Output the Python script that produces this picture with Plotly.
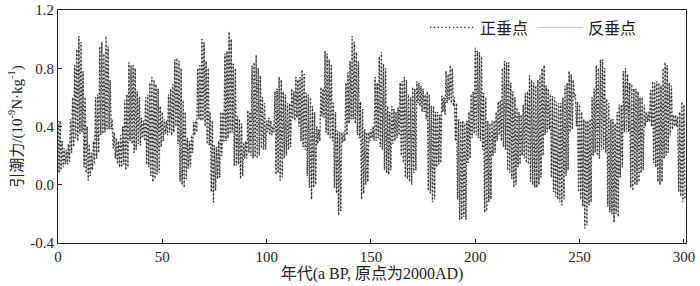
import plotly.graph_objects as go

years = list(range(0, 301))

upper = [
    .44, .44, .30, .25, .24, .28, .45, .60, .82, .93,
    1.02, .98, .78, .60, .40, .28, .22, .30, .60, .62,
    .95, .98, .90, 1.02, .95, .72, .45, .36, .32, .30,
    .34, .40, .58, .62, .84, .82, .82, .80, .64, .60,
    .46, .44, .60, .62, .70, .74, .72, .69, .66, .54,
    .50, .45, .44, .62, .66, .69, .86, .87, .85, .80,
    .58, .50, .32, .30, .34, .43, .44, .80, .82, 1.00,
    .98, .85, .80, .50, .44, .27, .26, .30, .50, .50,
    .90, .92, 1.05, 1.00, .83, .80, .47, .45, .42, .29,
    .30, .51, .50, .82, .84, .89, .80, .75, .60, .56,
    .44, .46, .44, .40, .64, .66, .74, .72, .64, .62,
    .56, .56, .66, .64, .74, .72, .74, .79, .76, .63,
    .62, .60, .54, .50, .40, .38, .67, .66, .92, .90,
    .86, .82, .56, .50, .37, .36, .36, .36, .70, .77,
    .85, 1.02, .98, .91, .85, .57, .52, .38, .36, .36,
    .38, .40, .74, .70, .88, .91, .83, .80, .54, .50,
    .54, .52, .50, .53, .70, .71, .74, .72, .62, .60,
    .67, .66, .71, .70, .68, .66, .62, .64, .62, .54,
    .54, .50, .50, .48, .61, .60, .78, .76, .82, .80,
    .60, .56, .45, .43, .44, .42, .44, .50, .62, .64,
    .94, .92, .91, .88, .63, .60, .44, .42, .44, .44,
    .50, .57, .58, .80, .85, .84, .84, .70, .64, .60,
    .53, .50, .48, .55, .63, .64, .75, .72, .70, .68,
    .72, .75, .80, .82, .68, .66, .62, .61, .60, .57,
    .56, .56, .60, .68, .70, .78, .76, .72, .62, .57,
    .55, .50, .45, .44, .44, .45, .60, .66, .82, .80,
    .86, .86, .80, .59, .56, .45, .45, .42, .50, .55,
    .55, .78, .80, .76, .70, .69, .66, .66, .64, .60,
    .60, .55, .50, .50, .65, .71, .70, .71, .70, .68,
    .80, .84, .82, .70, .68, .48, .48, .47, .50, .57,
    .55,
]

lower = [
    .08, .10, .12, .14, .14, .16, .22, .26, .32, .30,
    .35, .36, .12, .08, .03, .06, .10, .14, .18, .22,
    .34, .35, .36, .38, .38, .38, .25, .18, .14, .12,
    .12, .14, .10, .12, .30, .28, .22, .24, .28, .27,
    .32, .30, .14, .12, .06, .02, .04, .07, .08, .26,
    .30, .35, .34, .36, .34, .36, .40, .28, .02, .00,
    -.02, .04, .11, .12, .22, .34, .36, .45, .44, .44,
    .40, .28, .27, -.05, -.12, -.04, .04, .05, .20, .29,
    .30, .32, .35, .36, .13, .13, .14, .04, .06, .18,
    .18, .22, .20, .18, .19, .18, .20, .25, .24, .24,
    .36, .34, .34, .36, .07, .08, .03, .05, .18, .20,
    .24, .26, .45, .44, .46, .40, .30, .26, .24, .06,
    -.02, -.10, -.02, .00, .28, .30, .47, .46, .36, .34,
    .32, .30, -.02, -.06, -.21, -.18, .29, .30, .34, .42,
    .45, .45, .42, .34, .32, -.10, -.06, .00, .02, .30,
    .32, .30, .30, .32, .26, .24, .10, .08, .07, .10,
    .28, .30, .32, .34, .20, .15, .05, .04, .02, .00,
    .08, .10, .56, .54, .50, .50, .45, -.04, -.06, -.12,
    -.10, .12, .14, .15, .50, .48, .56, .58, .56, .54,
    .30, -.10, -.24, -.24, -.22, -.24, .15, .18, .32, .35,
    .34, .32, .30, .24, -.19, -.18, -.12, -.10, .20, .22,
    .30, .34, .30, .26, .24, .10, .08, .04, -.02, .00,
    .12, .14, .20, .18, .15, .14, .02, .00, -.02, -.02,
    .00, .05, .20, .34, .36, .38, .05, -.05, -.08, -.10,
    -.12, -.14, -.10, .06, .10, .36, .38, .60, .40, -.05,
    -.10, -.15, -.30, -.28, -.14, -.12, .20, .22, .20, .18,
    .24, .24, .22, -.15, -.19, -.20, -.26, -.20, -.22, .05,
    .12, .36, .36, .36, -.02, -.04, .00, .00, .02, .08,
    .10, .40, .43, .43, .40, .15, .12, .02, .00, .02,
    .18, .20, .22, .34, .38, .40, .40, -.05, -.08, -.12,
    -.10,
]

x_ticks = [0, 50, 100, 150, 200, 250, 300]
y_ticks = [-0.4, 0.0, 0.4, 0.8, 1.2]
y_tick_text = ["-0.4", "0.0", "0.4", "0.8", "1.2"]

xs, ys = [], []
for yr, hi, lo in zip(years, upper, lower):
    xs.append(yr)
    ys.append(hi)
    xs.append(yr + 0.5)
    ys.append(lo)

FONT = "Liberation Serif, Times New Roman, Noto Sans CJK SC, serif"

fig = go.Figure()
fig.add_trace(go.Scatter(
    x=xs, y=ys, mode="lines", name="反垂点",
    line=dict(color="#ababab", width=0.7),
))
fig.add_trace(go.Scatter(
    x=xs, y=ys, mode="lines", name="正垂点",
    line=dict(color="#333333", width=1.4, dash="1.4px,2.4px"),
))

fig.update_layout(
    width=700, height=286,
    margin=dict(l=58, r=14, t=10, b=43),
    paper_bgcolor="white", plot_bgcolor="white",
    font=dict(family=FONT, size=15, color="#222222"),
    legend=dict(
        orientation="h", x=0.93, xanchor="right", y=0.925, yanchor="middle",
        bgcolor="rgba(0,0,0,0)", font=dict(size=16, family=FONT),
        traceorder="reversed", itemwidth=45,
    ),
    showlegend=True,
)
fig.update_xaxes(
    range=[0, 301], tickvals=x_ticks, ticks="inside", ticklen=4,
    tickcolor="#222", showline=True, linecolor="#222", linewidth=1,
    mirror=True, showgrid=False, zeroline=False, automargin=False,
    title=dict(text="年代(a BP, 原点为2000AD)", standoff=0,
               font=dict(size=16, family=FONT)),
    tickfont=dict(size=15, family=FONT),
)
fig.update_yaxes(
    range=[-0.4, 1.2], tickvals=y_ticks, ticktext=y_tick_text,
    ticks="inside", ticklen=4, tickcolor="#222",
    showline=True, linecolor="#222", linewidth=1, mirror=True,
    showgrid=False, zeroline=False, automargin=False,
    title=dict(text="引潮力/(10<sup>-9</sup>N·kg<sup>-1</sup>)", standoff=4,
               font=dict(size=15, family=FONT)),
    tickfont=dict(size=15, family=FONT),
)

fig.write_html(
    "out.html",
    config={"displayModeBar": False},
    post_script="document.body.style.margin='0px';document.body.style.overflow='hidden';",
)
